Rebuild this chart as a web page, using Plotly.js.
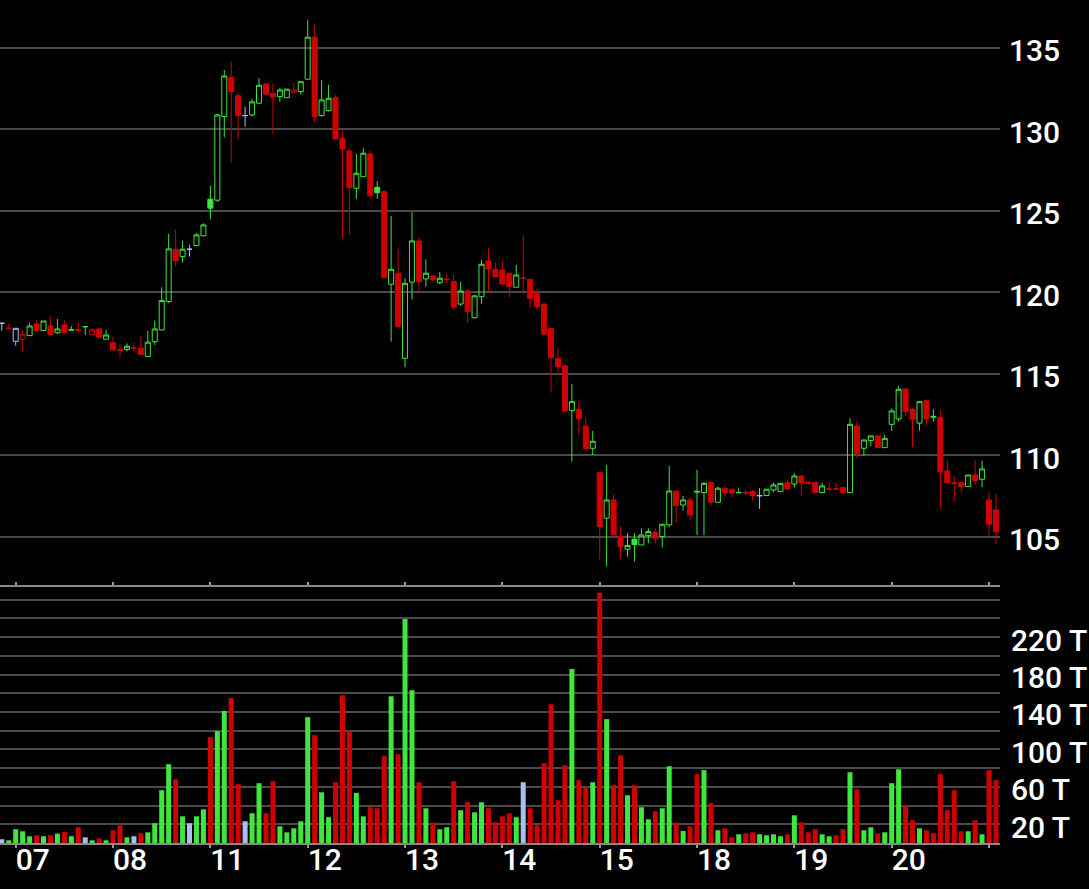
<!DOCTYPE html>
<html>
<head>
<meta charset="utf-8">
<script src="https://cdn.plot.ly/plotly-3.0.1.min.js"></script>
<style>
html,body{margin:0;padding:0;background:#000;}
#chart{width:1089px;height:889px;}
</style>
</head>
<body>
<div id="chart"></div>
<script>
// ---- data (30-minute candles, 14 per session; chart opens 2 candles before the 07 session) ----
const dayLabels = ["07","08","11","12","13","14","15","18","19","20","21"];

const open = [
118.11,117.78,117.00,117.13,117.35,118.07,117.66,117.94,117.53,118.00,117.68,117.72,117.90,117.41,117.76,117.13,
116.92,116.50,116.50,116.60,116.58,116.07,116.98,117.70,119.44,122.65,122.20,122.65,122.87,123.48,
125.72,125.66,130.79,133.20,132.06,130.85,130.89,131.61,132.79,132.20,132.01,131.95,132.28,132.32,
133.08,135.66,130.85,131.15,131.95,129.46,128.68,126.39,127.10,128.50,126.45,126.18,120.50,121.18,
115.96,120.63,123.16,120.83,121.01,120.60,120.79,120.66,119.29,120.09,118.45,119.74,121.93,121.42,
121.38,121.18,120.32,120.87,120.81,119.95,119.29,117.80,115.96,115.49,112.75,112.83,111.81,110.44,
108.94,106.15,107.27,105.02,104.25,104.86,104.51,105.08,105.29,105.02,105.74,107.82,106.96,107.27,
107.80,107.72,108.33,107.13,107.99,107.93,107.71,107.74,107.78,107.52,107.54,107.88,107.78,108.33,
108.25,108.74,108.35,108.33,107.72,107.93,107.95,108.03,107.72,111.81,110.44,110.91,111.20,110.48,
111.91,112.24,114.08,112.83,111.98,113.36,112.40,112.34,109.05,108.32,108.33,108.09,108.80,108.54,
107.27,106.66];

const high = [
118.11,118.11,117.80,117.70,118.11,118.30,118.25,118.52,118.37,118.30,117.94,118.20,117.95,117.80,117.84,117.70,
117.29,116.82,116.88,116.92,117.33,117.64,118.27,120.32,123.59,123.83,123.16,122.92,123.63,124.24,
126.53,130.95,133.65,134.16,132.22,131.40,131.87,133.14,132.85,132.83,132.56,132.47,132.87,132.93,
136.72,136.41,133.04,132.73,132.12,129.91,128.85,128.50,128.85,128.70,126.84,126.29,124.69,122.65,
120.87,124.92,123.39,122.03,121.07,121.24,121.12,121.12,120.66,120.21,119.85,121.99,122.71,121.83,
121.93,121.18,121.69,123.47,120.81,120.26,119.29,117.80,116.58,115.66,114.39,113.34,112.34,111.50,
108.94,109.42,107.58,105.63,105.23,105.23,105.53,105.53,105.53,105.78,109.36,107.82,107.52,107.44,
109.11,108.39,108.33,108.09,108.09,107.93,107.99,107.88,107.88,107.99,107.93,108.33,108.29,108.50,
108.91,108.74,108.45,108.39,108.33,108.33,108.33,108.09,112.28,112.07,110.95,111.20,111.26,111.26,
112.89,114.26,114.08,112.93,113.30,113.36,112.83,112.79,109.68,108.74,108.33,108.80,109.72,109.68,
107.74,107.64];

const low = [
117.66,117.70,116.74,116.37,117.35,117.66,117.66,117.41,117.45,117.53,117.68,117.55,117.40,117.41,117.20,117.13,
116.47,116.06,116.37,116.37,116.20,116.07,116.78,117.65,119.34,121.63,121.83,122.20,122.87,123.44,
124.49,125.55,129.52,127.96,129.40,130.17,130.79,131.55,132.16,129.71,131.70,131.95,132.28,132.16,
133.08,130.42,130.79,131.10,129.36,123.33,123.53,125.74,127.10,125.74,125.74,120.91,116.98,117.90,
115.41,119.58,120.05,120.36,120.70,120.50,120.56,118.97,119.17,118.15,118.41,119.30,120.01,120.95,
120.52,119.70,120.32,119.89,119.07,118.97,117.39,113.85,115.08,112.63,109.62,111.26,110.40,110.03,
103.63,103.18,105.12,103.70,103.80,103.49,104.51,104.61,104.61,104.37,105.60,105.88,106.62,106.04,
105.12,105.12,106.96,107.13,107.44,107.44,107.71,107.58,107.23,106.72,107.54,107.74,107.78,107.94,
108.03,107.54,108.19,107.72,107.72,107.93,107.93,107.72,107.68,109.83,109.97,110.58,110.48,110.48,
111.50,112.07,112.42,110.52,111.52,111.87,112.07,106.76,108.33,107.17,107.72,108.09,108.19,108.05,
105.08,104.57];

const close = [
118.11,117.80,117.80,117.44,117.94,117.66,118.25,117.41,117.76,117.53,117.72,117.68,117.90,117.70,117.25,117.39,
116.47,116.43,116.70,116.60,116.20,116.95,117.76,119.50,122.67,121.95,122.65,122.65,123.53,124.14,
125.17,130.89,133.28,132.32,130.85,130.85,131.69,132.71,132.16,131.98,132.42,132.47,132.42,132.93,
135.66,130.79,131.81,131.91,129.42,128.80,126.43,127.31,128.54,125.94,126.12,120.91,121.42,117.90,
120.56,123.16,120.66,121.18,120.77,120.87,120.81,119.09,120.09,118.82,119.79,121.73,121.44,120.95,
120.52,120.36,121.07,120.87,119.64,119.13,117.45,116.00,115.45,112.73,113.30,112.26,110.40,110.87,
105.63,107.27,105.12,104.41,104.48,104.53,105.12,105.33,104.92,105.78,107.82,106.93,107.27,106.35,
107.76,108.29,107.13,107.99,107.72,107.70,107.73,107.70,107.54,107.54,107.93,108.19,108.29,107.94,
108.74,108.33,108.31,107.72,108.13,107.95,107.93,107.72,111.91,110.13,110.95,111.20,110.48,111.05,
112.73,114.06,112.69,112.22,113.30,112.24,112.36,108.99,108.33,108.30,108.09,108.80,108.46,109.17,
105.78,105.33];

// volume in T
const volume = [
4.0,2.9,14.7,12.5,7.2,8.3,7.2,8.3,10.0,11.8,7.2,16.8,6.1,2.9,5.0,2.9,
13.6,18.9,6.1,7.2,10.4,11.4,21.1,56.4,84.2,68.1,28.5,21.1,28.5,36.0,
113.0,119.5,140.9,154.8,62.8,23.2,31.8,63.9,31.8,66.0,17.8,11.4,15.7,23.2,
134.4,115.2,54.2,27.5,64.9,157.9,119.5,53.5,28.5,38.2,37.1,92.7,156.9,94.9,
239.2,163.3,64.9,37.1,21.8,14.7,16.8,66.0,35.0,43.5,32.8,43.5,37.1,22.1,
28.5,31.8,27.5,64.9,37.1,18.9,85.2,148.3,45.7,83.1,185.8,67.1,59.9,64.9,
267.4,132.3,61.7,93.8,51.0,61.7,38.2,25.3,33.9,37.1,82.0,21.8,12.8,17.8,
73.5,77.8,42.5,13.6,15.7,6.1,9.3,10.4,11.4,9.3,8.3,9.3,7.2,9.3,
29.6,22.1,11.4,14.7,9.3,7.2,8.3,14.7,75.6,57.4,13.6,16.8,10.4,11.4,
63.9,78.8,40.3,24.2,15.7,13.6,10.4,73.5,35.0,56.4,12.5,12.5,24.2,9.3,
77.8,67.1];

const volumeLabelStep = 40;   // label every other 20 T grid line
const volumeGridStep = 20;
const candlesPerDay = 14;
const leadCandles = 2;

// ---- styling ----
const GREEN = '#3ee63e';
const RED = '#d00000';
const BLUE = '#a9bff2';
const colorOf = {up: GREEN, down: RED, flat: BLUE};

const idx = close.map((_, i) => i);
// candle colour: close vs previous close; fill: close below open
const dir = close.map((c, i) => {
  const ref = i === 0 ? open[0] : close[i - 1];
  return c > ref ? 'up' : (c < ref ? 'down' : 'flat');
});
const filled = close.map((c, i) => c < open[i]);
// volume colour: close vs open
const volColor = close.map((c, i) => c > open[i] ? GREEN : (c < open[i] ? RED : BLUE));

const traces = [];
['up', 'down', 'flat'].forEach(d => {
  [true, false].forEach(f => {
    const sel = idx.filter(i => dir[i] === d && filled[i] === f);
    if (!sel.length) return;
    const col = colorOf[d];
    const fill = f ? col : 'rgba(0,0,0,0)';
    const style = {line: {color: col, width: 1}, fillcolor: fill};
    traces.push({
      type: 'candlestick', xaxis: 'x', yaxis: 'y',
      x: sel, open: sel.map(i => open[i]), high: sel.map(i => high[i]),
      low: sel.map(i => low[i]), close: sel.map(i => close[i]),
      increasing: style, decreasing: style, whiskerwidth: 0,
      showlegend: false, hoverinfo: 'skip'
    });
  });
});

traces.push({
  type: 'bar', xaxis: 'x2', yaxis: 'y2', x: idx, y: volume,
  marker: {color: volColor, line: {width: 0}}, showlegend: false, hoverinfo: 'skip'
});

const nDays = dayLabels.length;
const dayTickVals = dayLabels.map((_, k) => leadCandles + k * candlesPerDay);
// last session label does not fit next to the price scale
const dayTickText = dayLabels.map((t, k) => k === nDays - 1 ? '' : t);

const volTickVals = [];
const volTickText = [];
for (let v = volumeGridStep; v <= 260; v += volumeGridStep) {
  volTickVals.push(v);
  volTickText.push((v % volumeLabelStep === volumeGridStep && v <= 220) ? v + ' T' : '');
}

const xRange = [-0.26, 143.58];
const tickFont = {family: 'Roboto, sans-serif', size: 30, color: '#ffffff', weight: 500};
const splitFrac = 256 / 843;

const layout = {
  width: 1089, height: 889,
  paper_bgcolor: '#000', plot_bgcolor: '#000',
  margin: {l: 0, r: 89, t: 0, b: 46, pad: 0},
  showlegend: false, hovermode: false,
  boxgap: 0.15, boxgroupgap: 0.15,
  bargap: 0.28,
  xaxis: {
    domain: [0, 1], anchor: 'y', range: xRange, showticklabels: false,
    showgrid: false, zeroline: false, showline: false, ticks: '',
    rangeslider: {visible: false}
  },
  xaxis2: {
    domain: [0, 1], anchor: 'y2', matches: 'x', range: xRange,
    tickmode: 'array', tickvals: dayTickVals, ticktext: dayTickText,
    ticks: 'outside', ticklen: 3, tickwidth: 2, tickcolor: '#9a9a9a',
    showline: true, linecolor: '#8a8a8a', linewidth: 2, mirror: 'ticks',
    showgrid: false, zeroline: false, tickfont: tickFont,
    ticklabelshift: 17, ticklabelstandoff: -14
  },
  yaxis: {
    domain: [splitFrac, 1], anchor: 'x', side: 'right',
    range: [101.93, 137.94], dtick: 5, tick0: 0,
    gridcolor: '#4a4a4a', gridwidth: 2, zeroline: false, showline: false,
    ticks: '', tickfont: tickFont, ticklabelstandoff: 8, ticklabelshift: 3
  },
  yaxis2: {
    domain: [0, splitFrac], anchor: 'x2', side: 'right',
    range: [0, 273.5], tickmode: 'array', tickvals: volTickVals, ticktext: volTickText,
    gridcolor: '#4a4a4a', gridwidth: 2, zeroline: false, showline: false,
    ticks: '', tickfont: tickFont, ticklabelstandoff: 10, ticklabelshift: 3
  }
};

Plotly.newPlot('chart', traces, layout, {staticPlot: true, displayModeBar: false});
</script>
</body>
</html>
